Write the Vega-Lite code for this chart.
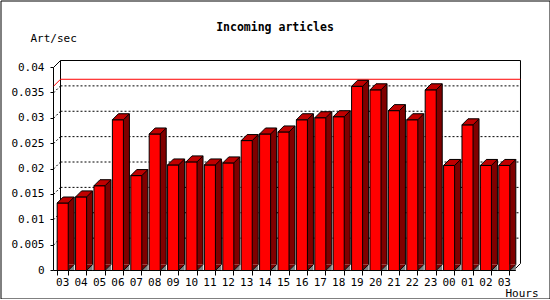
{
  "$schema": "https://vega.github.io/schema/vega-lite/v6.json",
  "width": 549,
  "height": 298,
  "autosize": {"type": "none"},
  "padding": {"left": 0.5, "top": 0.5, "right": 0, "bottom": 0},
  "background": "white",
  "config": {
    "view": {"stroke": "black", "strokeWidth": 1, "fill": "white"},
    "axis": {
      "domainColor": "black", "tickColor": "black", "labelColor": "black", "titleColor": "black",
      "labelFont": "DejaVu Sans Mono", "titleFont": "DejaVu Sans Mono",
      "labelFontSize": 11, "titleFontSize": 11, "titleFontWeight": "normal",
      "translate": 0, "grid": false, "labelOverlap": false, "labelBound": false
    },
    "axisQuantitative": {"labelOverlap": false, "tickCount": 8},
    "axisY": {"labelOverlap": false}
  },
  "title": {
    "text": "Incoming articles", "font": "DejaVu Sans Mono", "fontSize": 11.5, "fontWeight": "bold",
    "color": "black", "anchor": "middle", "frame": "group", "baseline": "alphabetic", "offset": 0, "dy": 42
  },
  "datasets": {
    "articles": [
      {"h": "03", "v": 0.0133}, {"h": "04", "v": 0.0145}, {"h": "05", "v": 0.0167}, {"h": "06", "v": 0.0297},
      {"h": "07", "v": 0.0187}, {"h": "08", "v": 0.0269}, {"h": "09", "v": 0.0208}, {"h": "10", "v": 0.0214},
      {"h": "11", "v": 0.0208}, {"h": "12", "v": 0.0212}, {"h": "13", "v": 0.0256}, {"h": "14", "v": 0.0269},
      {"h": "15", "v": 0.0273}, {"h": "16", "v": 0.0297}, {"h": "17", "v": 0.0301}, {"h": "18", "v": 0.0303},
      {"h": "19", "v": 0.0363}, {"h": "20", "v": 0.0356}, {"h": "21", "v": 0.0315}, {"h": "22", "v": 0.0297},
      {"h": "23", "v": 0.0356}, {"h": "00", "v": 0.0207}, {"h": "01", "v": 0.0287}, {"h": "02", "v": 0.0207},
      {"h": "03b", "v": 0.0207}
    ],
    "grid": [{"v": 0.005}, {"v": 0.01}, {"v": 0.015}, {"v": 0.02}, {"v": 0.025}, {"v": 0.03}, {"v": 0.035}],
    "one": [{}]
  },
  "layer": [
    {
      "data": {"name": "articles"},
      "mark": {"type": "bar", "fill": "#ff0000", "stroke": "black", "strokeWidth": 1, "opacity": 0},
      "encoding": {
        "x": {
          "field": "h", "type": "nominal",
          "scale": {
            "domain": ["03","04","05","06","07","08","09","10","11","12","13","14","15","16","17","18","19","20","21","22","23","00","01","02","03b"],
            "range": [53, 513], "paddingInner": 0.4, "paddingOuter": 0.2
          },
          "axis": {
            "orient": "bottom", "offset": -28, "tickBand": "extent", "tickSize": 5, "labelPadding": 1,
            "labelAngle": 0, "labelExpr": "substring(datum.label, 0, 2)",
            "title": "Hours", "titleX": 505, "titleY": 26, "titleAlign": "left", "titleBaseline": "alphabetic", "titleAnchor": null
          }
        },
        "y": {
          "field": "v", "type": "quantitative",
          "scale": {"domain": [0, 0.04], "range": [270, 67], "nice": false},
          "axis": {
            "orient": "left", "offset": -53, "tickCount": 8,
            "labelExpr": "format(datum.value, '~g')", "tickSize": 3, "labelPadding": 6, "labelOverlap": false, "labelBound": false,
            "title": "Art/sec", "titleAngle": 0, "titleX": -23, "titleY": 41, "titleAlign": "left", "titleBaseline": "alphabetic", "titleAnchor": null
          }
        }
      }
    },
    {
      "data": {"name": "one"},
      "mark": {"type": "rule", "color": "black", "strokeWidth": 1, "xOffset": 7, "yOffset": -7, "y2Offset": -7},
      "encoding": {
        "x": {"datum": "03", "type": "nominal", "bandPosition": -0.3333},
        "y": {"datum": 0.04, "type": "quantitative"},
        "y2": {"datum": 0}
      }
    },
    {
      "data": {"name": "one"},
      "mark": {"type": "rule", "color": "black", "strokeWidth": 1, "xOffset": 7, "yOffset": -7, "y2Offset": -7},
      "encoding": {
        "x": {"datum": "03b", "type": "nominal", "bandPosition": 1.3333},
        "y": {"datum": 0.04, "type": "quantitative"},
        "y2": {"datum": 0}
      }
    },
    {
      "data": {"name": "one"},
      "mark": {"type": "rule", "color": "black", "strokeWidth": 1, "xOffset": 7, "x2Offset": 7, "yOffset": -7},
      "encoding": {
        "x": {"datum": "03", "type": "nominal", "bandPosition": -0.3333},
        "x2": {"datum": "03b", "bandPosition": 1.3333},
        "y": {"datum": 0.04, "type": "quantitative"}
      }
    },
    {
      "data": {"name": "one"},
      "mark": {"type": "rule", "color": "black", "strokeWidth": 1, "x2Offset": 7, "y2Offset": -7},
      "encoding": {
        "x": {"datum": "03", "type": "nominal", "bandPosition": -0.3333},
        "x2": {"datum": "03", "bandPosition": -0.3333},
        "y": {"datum": 0.04, "type": "quantitative"},
        "y2": {"datum": 0.04}
      }
    },
    {
      "data": {"name": "one"},
      "mark": {"type": "rule", "color": "black", "strokeWidth": 1, "x2Offset": 7, "y2Offset": -7},
      "encoding": {
        "x": {"datum": "03b", "type": "nominal", "bandPosition": 1.3333},
        "x2": {"datum": "03b", "bandPosition": 1.3333},
        "y": {"datum": 0, "type": "quantitative"},
        "y2": {"datum": 0}
      }
    },
    {
      "data": {"name": "grid"},
      "mark": {"type": "rule", "color": "black", "strokeWidth": 1, "strokeDash": [2, 2], "xOffset": 7, "x2Offset": 7, "yOffset": -7},
      "encoding": {
        "x": {"datum": "03", "type": "nominal", "bandPosition": -0.3333},
        "x2": {"datum": "03b", "bandPosition": 1.3333},
        "y": {"field": "v", "type": "quantitative"}
      }
    },
    {
      "data": {"name": "grid"},
      "mark": {"type": "rule", "color": "black", "strokeWidth": 1, "strokeDash": [2, 2], "x2Offset": 7, "y2Offset": -7},
      "encoding": {
        "x": {"datum": "03", "type": "nominal", "bandPosition": -0.3333},
        "x2": {"datum": "03", "bandPosition": -0.3333},
        "y": {"field": "v", "type": "quantitative"},
        "y2": {"field": "v"}
      }
    },
    {
      "data": {"name": "articles"},
      "mark": {"type": "rule", "color": "#ff0000", "strokeWidth": 1, "xOffset": 7, "x2Offset": 7, "yOffset": -7},
      "encoding": {
        "x": {"datum": "03", "type": "nominal", "bandPosition": -0.3333},
        "x2": {"datum": "03b", "bandPosition": 1.3333},
        "y": {"aggregate": "max", "field": "v", "type": "quantitative"}
      }
    },
    {
      "data": {"name": "articles"},
      "mark": {"type": "rule", "color": "#ff0000", "strokeWidth": 1, "x2Offset": 7, "y2Offset": -7},
      "encoding": {
        "x": {"datum": "03", "type": "nominal", "bandPosition": -0.3333},
        "x2": {"datum": "03", "bandPosition": -0.3333},
        "y": {"aggregate": "max", "field": "v", "type": "quantitative"},
        "y2": {"aggregate": "max", "field": "v"}
      }
    },
    {
      "data": {"name": "articles"},
      "mark": {"type": "bar", "color": "#800000", "strokeWidth": 0, "xOffset": 6, "yOffset": -6, "y2Offset": -6},
      "encoding": {
        "x": {"field": "h", "type": "nominal"},
        "y": {"field": "v", "type": "quantitative"}
      }
    },
    {
      "data": {"name": "articles"},
      "mark": {"type": "rule", "color": "black", "strokeWidth": 1, "xOffset": 6, "yOffset": -6, "y2Offset": -6},
      "encoding": {
        "x": {"field": "h", "type": "nominal", "bandPosition": 1},
        "y": {"field": "v", "type": "quantitative"},
        "y2": {"datum": 0}
      }
    },
    {
      "data": {"name": "articles"},
      "mark": {"type": "point", "shape": "M5.52,0L11.52,-6L5.52,-6Z", "size": 4, "filled": true, "fill": "#800000", "strokeWidth": 0, "opacity": 1},
      "encoding": {
        "x": {"field": "h", "type": "nominal"},
        "y": {"datum": 0, "type": "quantitative"}
      }
    },
    {
      "data": {"name": "articles"},
      "mark": {"type": "point", "shape": "M11.52,0L5.52,0L11.52,-6", "size": 4, "filled": true, "fill": "#808080", "stroke": "black", "strokeWidth": 1, "opacity": 1},
      "encoding": {
        "x": {"field": "h", "type": "nominal"},
        "y": {"datum": 0, "type": "quantitative"}
      }
    },
    {
      "data": {"name": "articles"},
      "mark": {"type": "bar", "fill": "#ff0000", "stroke": "black", "strokeWidth": 1},
      "encoding": {
        "x": {"field": "h", "type": "nominal"},
        "y": {"field": "v", "type": "quantitative"}
      }
    },
    {
      "data": {"name": "articles"},
      "mark": {"type": "point", "shape": "M-5.52,0L0.48,-6L11.52,-6L5.52,0Z", "size": 4, "filled": true, "fill": "#c00000", "stroke": "black", "strokeWidth": 1, "opacity": 1},
      "encoding": {
        "x": {"field": "h", "type": "nominal"},
        "y": {"field": "v", "type": "quantitative"}
      }
    }
  ]
}
